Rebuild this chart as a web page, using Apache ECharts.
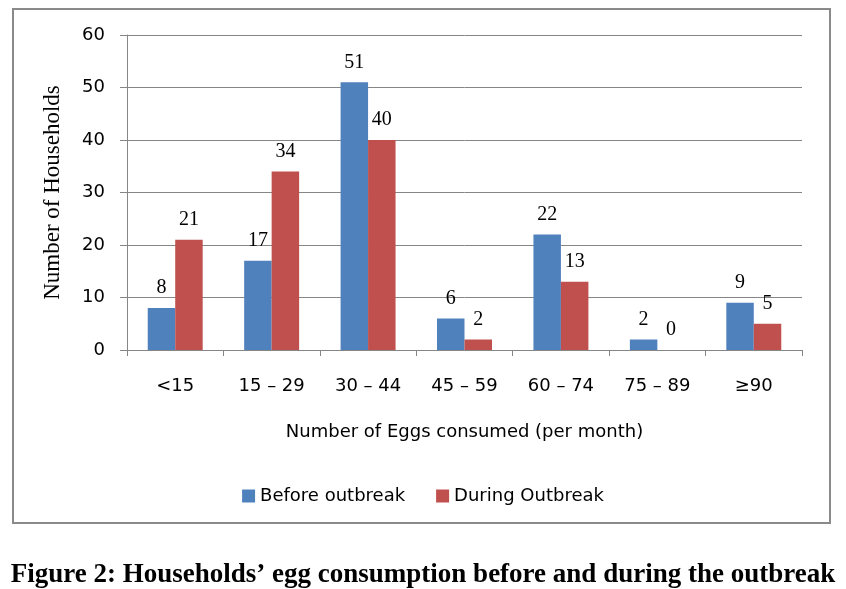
<!DOCTYPE html>
<html>
<head>
<meta charset="utf-8">
<script src="https://cdn.jsdelivr.net/npm/echarts@6/dist/echarts.min.js"></script>
<style>html,body{margin:0;padding:0;background:#fff}#c{width:846px;height:589px}</style>
</head>
<body>
<div id="c"></div>
<script>
const categories = ['<15', '15 \u2013 29', '30 \u2013 44', '45 \u2013 59', '60 \u2013 74', '75 \u2013 89', '\u226590'];
const beforeOutbreak = [8, 17, 51, 6, 22, 2, 9];
const duringOutbreak = [21, 34, 40, 2, 13, 0, 5];
const yTicks = { min: 0, max: 60, interval: 10 };
const seriesNames = ['Before outbreak', 'During Outbreak'];
const figureCaption = 'Figure 2: Households\u2019 egg consumption before and during the outbreak';

const chart = echarts.init(document.getElementById('c'), null, { renderer: 'canvas' });
const labelStyle = {
  show: true, position: 'top', distance: 10,
  fontFamily: 'Liberation Serif', fontSize: 20, color: '#000'
};
chart.setOption({
  animation: false,
  backgroundColor: '#fff',
  title: {
    text: figureCaption,
    left: 'center', top: 557,
    textStyle: { fontFamily: 'Liberation Serif', fontWeight: 'bold', fontSize: 27, color: '#000' }
  },
  graphic: [{
    type: 'rect', shape: { x: 13, y: 9, width: 817, height: 514 },
    style: { fill: 'none', stroke: '#8a8a8a', lineWidth: 2 }, silent: true
  }],
  legend: {
    data: seriesNames, top: 482, left: 'center',
    itemWidth: 13, itemHeight: 13, itemGap: 31, icon: 'rect',
    textStyle: { fontFamily: 'DejaVu Sans', fontSize: 18, color: '#000' }
  },
  grid: { left: 127, right: 44, top: 35, bottom: 239, containLabel: false },
  xAxis: {
    type: 'category', data: categories,
    name: 'Number of Eggs consumed (per month)', nameLocation: 'middle', nameGap: 73,
    nameTextStyle: { fontFamily: 'DejaVu Sans', fontSize: 18, color: '#000' },
    axisLine: { lineStyle: { color: '#868686', width: 1 } },
    axisTick: { show: true, length: 6, alignWithLabel: false, lineStyle: { color: '#868686' } },
    axisLabel: { margin: 27, fontFamily: 'DejaVu Sans', fontSize: 18, color: '#000' }
  },
  yAxis: {
    type: 'value', min: yTicks.min, max: yTicks.max, interval: yTicks.interval,
    name: 'Number of Households', nameLocation: 'middle', nameGap: 63,
    nameTextStyle: { fontFamily: 'Liberation Serif', fontSize: 23, color: '#000' },
    axisLine: { show: true, lineStyle: { color: '#868686' } },
    axisTick: { show: true, length: 7, lineStyle: { color: '#868686' } },
    splitLine: { lineStyle: { color: '#868686', width: 1 } },
    axisLabel: { margin: 22, fontFamily: 'DejaVu Sans', fontSize: 18, color: '#000' }
  },
  series: [
    { name: seriesNames[0], type: 'bar', data: beforeOutbreak, barGap: '0%', barCategoryGap: '43%',
      itemStyle: { color: '#4F81BD' }, label: labelStyle },
    { name: seriesNames[1], type: 'bar', data: duringOutbreak, barGap: '0%', barCategoryGap: '43%',
      itemStyle: { color: '#C0504D' }, label: labelStyle }
  ]
});
</script>
</body>
</html>
